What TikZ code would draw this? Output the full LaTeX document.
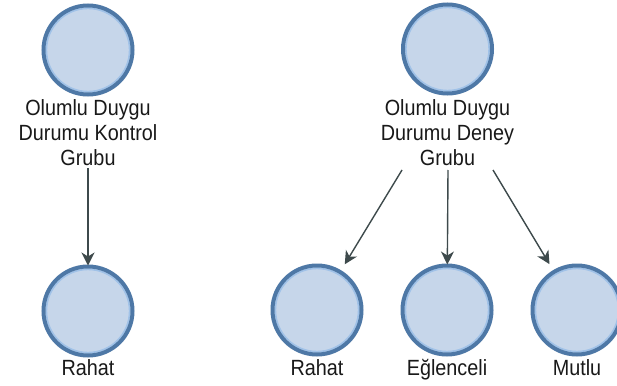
\documentclass[tikz,border=0pt]{standalone}
\usepackage{fontspec}
\setmainfont{Liberation Sans}[FakeStretch=0.9]
\usetikzlibrary{arrows.meta}
\definecolor{ringdark}{RGB}{78,120,166}
\definecolor{ringlight}{RGB}{160,194,232}
\definecolor{discfill}{RGB}{198,214,234}
\definecolor{arrowgray}{RGB}{62,74,76}
\definecolor{txtgray}{RGB}{25,25,25}
\tikzset{
  disc/.style={circle, draw=ringdark, line width=4pt, fill=discfill,
    minimum size=89pt, inner sep=0pt, outer sep=0pt,
    path picture={\draw[ringlight, line width=1.6pt]
      (path picture bounding box.center) circle (41.6pt);}},
  caption/.style={align=center, inner sep=0pt, text=txtgray,
    font=\fontsize{22}{25}\selectfont},
  link/.style={draw=arrowgray, line width=1.4pt,
    -{Stealth[length=13pt, width=13pt, inset=4pt]}}
}
\begin{document}
\begin{tikzpicture}[x=1pt, y=-1pt]
  \useasboundingbox (0,0) rectangle (617,385);
  \fill[white] (0,0) rectangle (617,385);

  % control group
  \node[disc] (topL) at (88,50) {};
  \node[caption, anchor=north] (txtL) at (88,99)
    {Olumlu Duygu\\Durumu Kontrol\\Grubu};
  \node[disc] (rahatL) at (88,311) {};
  \node[caption, anchor=north] (labRahatL) at (88,359) {Rahat};

  % experiment group
  \node[disc] (topR) at (447.5,49) {};
  \node[caption, anchor=north] (txtR) at (447.5,99)
    {Olumlu Duygu\\Durumu Deney\\Grubu};
  \node[disc] (rahatR) at (317,310) {};
  \node[disc] (eglenceli) at (447,310) {};
  \node[disc] (mutlu) at (577,310) {};
  \node[caption, anchor=north] (labRahatR) at (317,359) {Rahat};
  \node[caption, anchor=north] (labEglenceli) at (447,359) {Eğlenceli};
  \node[caption, anchor=north] (labMutlu) at (577,359) {Mutlu};

  % arrow tails just under the captions
  \coordinate (tL) at (88,168);
  \coordinate (tR1) at (402,170);
  \coordinate (tR2) at (448,170);
  \coordinate (tR3) at (493,170);

  \draw[link, shorten >=1pt] (tL) -- (rahatL);
  \draw[link, shorten >=9pt] (tR1) -- (rahatR);
  \draw[link, shorten >=1pt] (tR2) -- (eglenceli);
  \draw[link, shorten >=9pt] (tR3) -- (mutlu);
\end{tikzpicture}
\end{document}
